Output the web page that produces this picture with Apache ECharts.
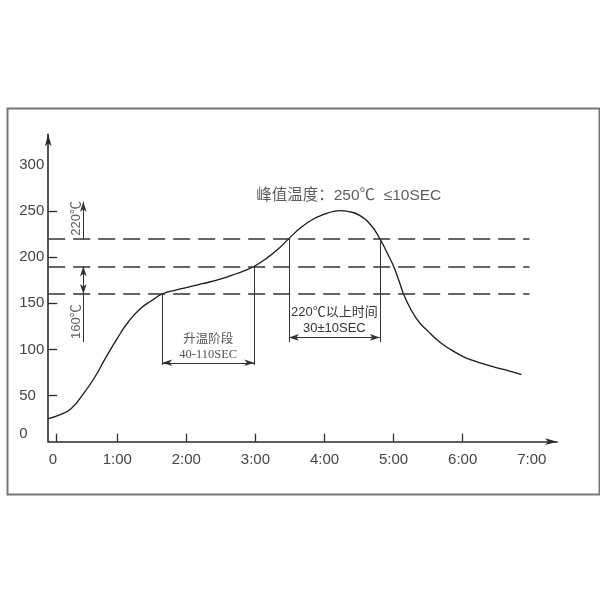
<!DOCTYPE html>
<html>
<head>
<meta charset="utf-8">
<script src="https://cdn.jsdelivr.net/npm/echarts@6/dist/echarts.min.js"></script>
<style>
  html, body { margin: 0; padding: 0; background: #fff; }
  #main { width: 600px; height: 600px; }
</style>
</head>
<body>
<div id="main"></div>
<script>
// 回流焊温度曲线：时间(秒) / 温度(℃)
var timeSec = [0, 10, 20, 30, 40, 50, 60, 70, 80, 90, 99, 110, 120, 130, 140, 150, 160, 170, 179,
  190, 200, 209, 220, 230, 240, 248, 254, 261, 270, 280, 288, 295, 300, 305, 310, 320, 330, 340, 350,
  360, 370, 380, 390, 400, 411];
var tempC = [25, 29, 36, 51, 69, 91, 112, 130.5, 144, 153, 160, 164, 167, 170, 173, 176.5, 180.5, 185, 190,
  199, 209, 220, 232.5, 241, 246.5, 249.6, 250.3, 249.3, 245.5, 235, 220, 203, 190, 173, 156, 133, 119.5, 108, 99.5,
  92.5, 87.5, 83.5, 80, 76.8, 72.6];

var thresholds = [220, 190, 160];
var dashEndSec = 418;
var rampSec = [99, 179];      // 升温阶段
var talSec = [209, 288];      // 220℃以上时间

var xTickSec = [7, 60, 120, 180, 240, 300, 360];
var xLabelSec = [4, 60, 120, 180, 240, 300, 360, 420];
var xLabels = ['0', '1:00', '2:00', '3:00', '4:00', '5:00', '6:00', '7:00'];
var yTickVals = [50, 100, 150, 200, 250];
var yLabelVals = [9, 50, 100, 150, 200, 250, 300];
var yLabels = ['0', '50', '100', '150', '200', '250', '300'];

var chart = echarts.init(document.getElementById('main'));

var axisColor = '#2a2a2a';
var thin = { color: '#333', width: 1, type: 'solid' };
var arrowSize = [5, 10];

function seg(a, b, s1, s2, extra) {
  var p = { coord: a, symbol: s1 || 'none' };
  var q = { coord: b, symbol: s2 || 'none' };
  if (extra) echarts.util.merge(p, extra, true);
  return [p, q];
}

var lines = [];
thresholds.forEach(function (t) {
  lines.push(seg([0, t], [dashEndSec, t], null, null, {
    lineStyle: { type: [17, 8], width: 1.5, color: '#333' }
  }));
});
// 左侧温度标注
lines.push(seg([30.5, 220], [30.5, 260], 'none', 'arrow'));
lines.push(seg([30.5, 190], [30.5, 160], 'arrow', 'arrow'));
lines.push(seg([30.5, 160], [30.5, 108], 'none', 'none'));
// 升温阶段
lines.push(seg([rampSec[0], 160], [rampSec[0], 83]));
lines.push(seg([rampSec[1], 190], [rampSec[1], 83]));
lines.push(seg([rampSec[0], 85.5], [rampSec[1], 85.5], 'arrow', 'arrow', {
  label: {
    show: true, position: 'insideMiddleTop', distance: 1,
    formatter: '升温阶段\n40-110SEC',
    fontFamily: 'Liberation Serif, Noto Sans CJK SC, serif', fontSize: 12.5,
    lineHeight: 15, color: '#555'
  }
}));
// 220℃以上时间
lines.push(seg([talSec[0], 220], [talSec[0], 108]));
lines.push(seg([talSec[1], 220], [talSec[1], 108]));
lines.push(seg([talSec[0], 113], [talSec[1], 113], 'arrow', 'arrow', {
  label: {
    show: true, position: 'insideMiddleTop', distance: 1,
    formatter: '220℃以上时间\n30±10SEC',
    fontFamily: 'Liberation Sans, Noto Sans CJK SC, sans-serif', fontSize: 13,
    lineHeight: 16, color: '#333'
  }
}));

var notes = [
  { value: [261, 267], label: { formatter: '峰值温度：250℃  ≤10SEC', fontSize: 15.5, color: '#333' } },
  { value: [24.7, 242], label: { formatter: '220℃', rotate: 90, fontSize: 13, color: '#333' } },
  { value: [24.7, 130], label: { formatter: '160℃', rotate: 90, fontSize: 13, color: '#333' } }
];

chart.setOption({
  animation: false,
  graphic: [{
    type: 'rect', left: 5, top: 106,
    shape: { width: 592, height: 386 },
    style: { fill: 'none', stroke: '#777', lineWidth: 2 }
  }],
  grid: { left: 48.2, right: 42.9, top: 134.3, bottom: 158.3 },
  xAxis: {
    type: 'value', min: 0, max: 442,
    splitLine: { show: false },
    axisLine: { lineStyle: { color: axisColor, width: 1.6 }, symbol: ['none', 'arrow'], symbolSize: [5, 12] },
    axisTick: { inside: true, length: 8, customValues: xTickSec, lineStyle: { color: axisColor, width: 1.3 } },
    axisLabel: {
      customValues: xLabelSec, margin: 11,
      fontFamily: 'Liberation Sans, Arial, sans-serif', fontSize: 15, color: '#444',
      formatter: function (v) { return xLabels[xLabelSec.indexOf(v)]; }
    }
  },
  yAxis: {
    type: 'value', min: 0, max: 333,
    splitLine: { show: false },
    axisLine: { lineStyle: { color: axisColor, width: 1.6 }, symbol: ['none', 'arrow'], symbolSize: [5, 12] },
    axisTick: { inside: true, length: 9, customValues: yTickVals, lineStyle: { color: axisColor, width: 1.3 } },
    axisLabel: {
      customValues: yLabelVals, margin: 29, align: 'left',
      fontFamily: 'Liberation Sans, Arial, sans-serif', fontSize: 15, color: '#444',
      formatter: function (v) { return yLabels[yLabelVals.indexOf(v)]; }
    }
  },
  series: [{
    type: 'line',
    data: timeSec.map(function (t, i) { return [t, tempC[i]]; }),
    smooth: 0.5,
    showSymbol: false,
    silent: true,
    lineStyle: { color: '#1a1a1a', width: 1.3 },
    markLine: {
      silent: true,
      symbolSize: arrowSize,
      label: { show: false },
      lineStyle: thin,
      data: lines
    }
  }, {
    type: 'scatter',
    symbolSize: 0,
    silent: true,
    data: notes,
    label: {
      show: true, position: 'inside',
      fontFamily: 'Liberation Sans, Noto Sans CJK SC, sans-serif'
    }
  }]
});
</script>
</body>
</html>
